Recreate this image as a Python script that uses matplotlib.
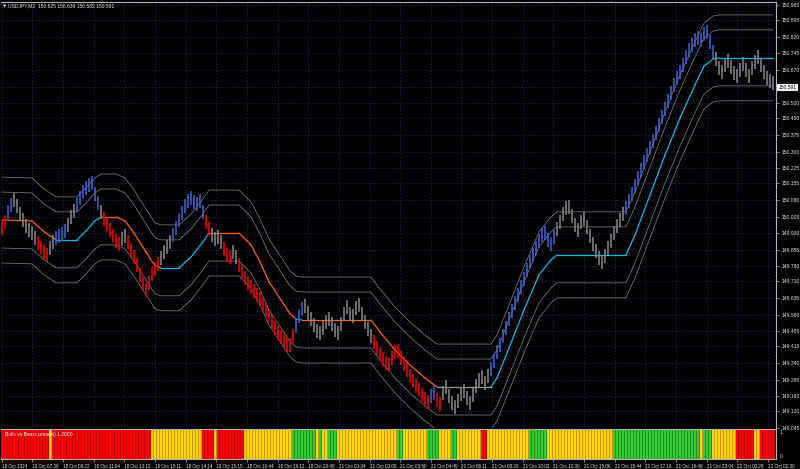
import numpy as np
import matplotlib
matplotlib.use("Agg")
import matplotlib.pyplot as plt

# ---------------- data ----------------
symbol = "USDJPY,M2"
last_ohlc = ["150.625", "150.639", "150.582", "150.591"]
last_price = 150.591
indicator_name = "Bulls vs Bears pma(%) 1.2000"

# median price of each bar (left to right)
bar_mid = [
    149.953, 149.980, 150.025, 150.057, 150.080, 150.053, 150.016, 149.989, 149.962, 149.944,
    149.930, 149.907, 149.885, 149.862, 149.844, 149.830, 149.862, 149.889, 149.907, 149.917,
    149.926, 149.939, 149.966, 150.003, 150.030, 150.057, 150.089, 150.116, 150.134, 150.148,
    150.157, 150.107, 150.066, 150.025, 149.994, 149.971, 149.944, 149.917, 149.894, 149.880,
    149.903, 149.917, 149.889, 149.853, 149.821, 149.785, 149.740, 149.699, 149.671, 149.703,
    149.744, 149.767, 149.789, 149.817, 149.844, 149.867, 149.889, 149.921, 149.953, 149.989,
    150.021, 150.053, 150.075, 150.089, 150.071, 150.062, 150.075, 150.025, 149.980, 149.948,
    149.921, 149.903, 149.912, 149.889, 149.858, 149.830, 149.821, 149.844, 149.821, 149.785,
    149.758, 149.726, 149.703, 149.685, 149.667, 149.649, 149.630, 149.608, 149.581, 149.553,
    149.526, 149.499, 149.476, 149.458, 149.440, 149.422, 149.422, 149.463, 149.508, 149.553,
    149.585, 149.599, 149.567, 149.540, 149.512, 149.485, 149.476, 149.499, 149.526, 149.540,
    149.517, 149.490, 149.476, 149.517, 149.562, 149.594, 149.562, 149.553, 149.590, 149.603,
    149.562, 149.526, 149.494, 149.463, 149.435, 149.408, 149.381, 149.358, 149.340, 149.331,
    149.363, 149.390, 149.394, 149.363, 149.335, 149.308, 149.281, 149.258, 149.236, 149.217,
    149.195, 149.177, 149.163, 149.190, 149.204, 149.172, 149.154, 149.204, 149.231, 149.190,
    149.158, 149.140, 149.167, 149.199, 149.213, 149.181, 149.158, 149.195, 149.236, 149.263,
    149.276, 149.249, 149.281, 149.313, 149.349, 149.390, 149.422, 149.463, 149.499, 149.540,
    149.576, 149.612, 149.649, 149.685, 149.721, 149.762, 149.799, 149.830, 149.862, 149.894,
    149.921, 149.930, 149.898, 149.880, 149.912, 149.948, 149.980, 150.016, 150.044, 150.048,
    150.007, 149.966, 149.944, 149.980, 149.994, 149.957, 149.917, 149.880, 149.848, 149.817,
    149.799, 149.826, 149.862, 149.894, 149.930, 149.962, 149.989, 150.016, 150.044, 150.075,
    150.107, 150.144, 150.180, 150.216, 150.252, 150.284, 150.316, 150.348, 150.384, 150.420,
    150.457, 150.493, 150.529, 150.566, 150.602, 150.634, 150.661, 150.693, 150.729, 150.761,
    150.784, 150.806, 150.815, 150.806, 150.834, 150.843, 150.797, 150.752, 150.720, 150.679,
    150.661, 150.693, 150.711, 150.684, 150.657, 150.643, 150.670, 150.697, 150.670, 150.643,
    150.679, 150.707, 150.729, 150.693, 150.661, 150.634, 150.620, 150.610,
]

# bar colour state: B = bull (blue), R = bear (red), G = neutral (gray)
bar_trend = ("RRBBGGGGGG" "GGRRRRGGBB" "BBGGGBBBBB" "BBBGRRRRRR" "GGRRRRRRRR"
             "RRRGGGGBBB" "BBBBBBBBRR" "GGGGRRRGGR" "RRRRRRRRRR" "RRRRRRRRBB"
             "BGGGGGGGGG" "GGGGGGGGGG" "GGGGRRRRRR" "RRRRRRRRRR" "RRRBBRRGGG"
             "GGGGGGGGGG" "GGGBBBBBBB" "BBBBBBBBBB" "BBBBBGGGGG" "GGGGGGGGGG"
             "GGGGGGGGBB" "BBBBBBBBBB" "BBBBBBBBBB" "BBBBBBBBGG" "GGGGGGGGGG"
             "GGGGGGGG")

# Bulls vs Bears state per bar (run-length): R bears, Y neutral, G bulls
osc_runs = [("R", 16), ("Y", 1), ("R", 33), ("Y", 17), ("R", 4), ("Y", 1), ("R", 9),
            ("Y", 16), ("G", 8), ("Y", 1), ("G", 1), ("Y", 2), ("G", 3), ("Y", 20),
            ("G", 2), ("Y", 8), ("G", 4), ("Y", 4), ("G", 2), ("Y", 8), ("R", 2),
            ("Y", 14), ("G", 6), ("Y", 22), ("G", 29), ("Y", 1), ("G", 3), ("Y", 8),
            ("R", 6), ("Y", 2), ("R", 5)]

# trailing middle line (bar position, price) and state of the segment that starts there
mid_pos = [0, 10, 14, 18, 25, 28, 31, 33, 38, 41, 44, 48, 51, 53, 59, 63, 67, 69, 79, 83,
           86, 89, 93, 96, 98, 100, 123, 126, 131, 136, 141, 145, 163, 165, 169, 174, 179,
           183, 185, 208, 211, 216, 221, 226, 231, 234, 237, 239, 257]
mid_price = [149.989, 149.985, 149.935, 149.899, 149.899, 149.940, 149.985, 150.003, 150.003,
             149.985, 149.930, 149.844, 149.781, 149.772, 149.772, 149.821, 149.890, 149.930,
             149.930, 149.876, 149.799, 149.708, 149.626, 149.563, 149.540, 149.535, 149.535,
             149.481, 149.399, 149.331, 149.272, 149.231, 149.231, 149.272, 149.408, 149.581,
             149.740, 149.808, 149.831, 149.831, 149.921, 150.103, 150.284, 150.452, 150.602,
             150.688, 150.720, 150.725, 150.725]
mid_state = "OOO" + "CCCC" + "OOOOOO" + "CCCC" + "OOOOOOO" + "C" + "OOOOOO" + "G" + "C" * 17
band_offsets = [0.195, 0.127, -0.127, -0.195]

price_labels = ["149.045", "149.120", "149.190", "149.265", "149.340", "149.415", "149.485",
                "149.560", "149.635", "149.710", "149.780", "149.855", "149.930", "150.005",
                "150.080", "150.155", "150.225", "150.300", "150.375", "150.450", "150.520",
                "150.595", "150.670", "150.745", "150.820", "150.895", "150.965"]
time_labels = ["18 Oct 2024", "18 Oct 07:36", "18 Oct 09:22", "18 Oct 11:04", "18 Oct 13:10",
               "18 Oct 13:11", "18 Oct 14:14", "18 Oct 15:15", "18 Oct 16:44", "18 Oct 19:12",
               "18 Oct 20:49", "21 Oct 00:34", "21 Oct 03:06", "21 Oct 03:50", "21 Oct 04:49",
               "21 Oct 06:11", "21 Oct 08:26", "21 Oct 10:02", "21 Oct 12:30", "21 Oct 15:06",
               "21 Oct 15:44", "21 Oct 17:16", "21 Oct 19:46", "21 Oct 23:04", "22 Oct 00:28",
               "22 Oct 02:30"]

# ---------------- style ----------------
W, H = 800, 469
BG = "#000000"
GRID = "#1e1e5c"
FRAME = "#b4b4b4"
TXT = "#e6e6e6"
BAR_COL = {"B": "#3f66d8", "R": "#ff0000", "G": "#8a8a8a"}
MID_COL = {"O": "#ff6010", "C": "#12b8f0", "G": "#9a9a9a"}
BAND_COL = "#7c7c7c"
OSC_DARK = {"R": "#c00000", "Y": "#c89a10", "G": "#1f8f1f"}
OSC_BRIGHT = {"R": "#ff0000", "Y": "#ffd700", "G": "#33cc33"}
FONT = "Liberation Sans"
FS = 3.6
FS_T = 3.3

plt.rcParams["font.family"] = [FONT, "DejaVu Sans"]

fig = plt.figure(figsize=(W / 100, H / 100), dpi=100, facecolor=BG)

def px_rect(x0, y0, x1, y1):
    return [x0 / W, 1 - y1 / H, (x1 - x0) / W, (y1 - y0) / H]

px_per_bar = 3.0
x_first = 2.0
xl = ((1 - x_first) / px_per_bar, (776 - x_first) / px_per_bar)

# price scale: 150.965 at y=5 px, 149.045 at y=428 px
ppx = (150.965 - 149.045) / (428 - 5)
y_top, y_bot = 2, 428
ylim = (150.965 - (y_bot - 5) * ppx, 150.965 + (5 - y_top) * ppx)

ax = fig.add_axes(px_rect(1, y_top, 776, y_bot))
ax.set_facecolor(BG)
ax.set_xlim(*xl)
ax.set_ylim(*ylim)

n = len(bar_mid)
tick_pos = np.arange(len(time_labels)) * (30.65 / px_per_bar) - 0.1
price_pos = [float(s) for s in price_labels]

ax.set_xticks(tick_pos)
ax.set_yticks(price_pos)
ax.grid(True, color=GRID, linestyle=(0, (2, 2)), linewidth=0.6)
ax.set_axisbelow(True)
ax.tick_params(axis="x", length=0, labelbottom=False)
ax.yaxis.tick_right()
ax.tick_params(axis="y", which="both", direction="out", length=2.5, width=0.5,
               color=FRAME, labelsize=FS, labelcolor=TXT, pad=1.5)
ax.set_yticklabels(price_labels)
for lab in ax.get_yticklabels():
    lab.set_fontfamily(FONT)
    # the label under the current-price box is hidden by the box in the reference
    if abs(float(lab.get_text()) - last_price) < 0.02:
        lab.set_visible(False)
for side in ["left", "bottom"]:
    ax.spines[side].set_visible(False)
for side in ["top", "right"]:
    ax.spines[side].set_color(FRAME)
    ax.spines[side].set_linewidth(0.8)

# bands
mp = np.array(mid_price)
for off in band_offsets:
    ax.plot(mid_pos, mp + off, color=BAND_COL, lw=0.55, zorder=2)
# middle line by segment
for k in range(len(mid_pos) - 1):
    ax.plot(mid_pos[k:k + 2], mid_price[k:k + 2], color=MID_COL[mid_state[k]],
            lw=0.9, zorder=2, solid_capstyle="round")

# bars
for st in ["G", "R", "B"]:
    idx = [i for i in range(n) if bar_trend[i] == st]
    ax.plot(idx, [bar_mid[i] for i in idx], ls="none", marker="|", ms=10.5, mew=1.1,
            color=BAR_COL[st], zorder=3)

# ---------------- indicator panel ----------------
ax2 = fig.add_axes(px_rect(1, 429, 776, 459))
ax2.set_facecolor(BG)
ax2.set_xlim(*xl)
ax2.set_ylim(0, 1)
osc_state = "".join(s * c for s, c in osc_runs)
for st in ["R", "Y", "G"]:
    idx = [i for i in range(n) if osc_state[i] == st]
    ax2.bar(idx, [1] * len(idx), width=1.0, color=OSC_DARK[st], linewidth=0, zorder=1)
    ax2.bar(idx, [1] * len(idx), width=0.55, color=OSC_BRIGHT[st], linewidth=0, zorder=2)
ax2.set_yticks([])
ax2.set_xticks(tick_pos)
ax2.set_xticklabels(time_labels)
ax2.tick_params(axis="x", direction="out", length=2.5, width=0.5, color=FRAME,
                labelsize=FS_T, labelcolor=TXT, pad=1.0)
for lab in ax2.get_xticklabels():
    lab.set_horizontalalignment("left")
    lab.set_fontfamily(FONT)
ax2.spines["left"].set_visible(False)
for side in ["top", "right", "bottom"]:
    ax2.spines[side].set_color(FRAME)
    ax2.spines[side].set_linewidth(0.8)

# ---------------- texts ----------------
def ftext(x, y, s, **kw):
    kw.setdefault("fontsize", FS)
    kw.setdefault("color", TXT)
    kw.setdefault("va", "center")
    kw.setdefault("ha", "left")
    return fig.text(x / W, 1 - y / H, s, **kw)

ftext(2.5, 6, "\u25bc", fontsize=2.8, family="DejaVu Sans")
ftext(8, 6, symbol + "  " + " ".join(last_ohlc))
ftext(5, 434, indicator_name, color="#ffffff")
ftext(780, 433, "1")
ftext(780, 456, "0")

# current price box
y_last = 5 + (150.965 - last_price) / ppx
ftext(778.5, y_last, "%.3f" % last_price, color="#000000",
      bbox=dict(boxstyle="square,pad=0.25", fc="#ffffff", ec="#ffffff", lw=0))

fig.savefig("out.png", dpi=100, facecolor=BG)
